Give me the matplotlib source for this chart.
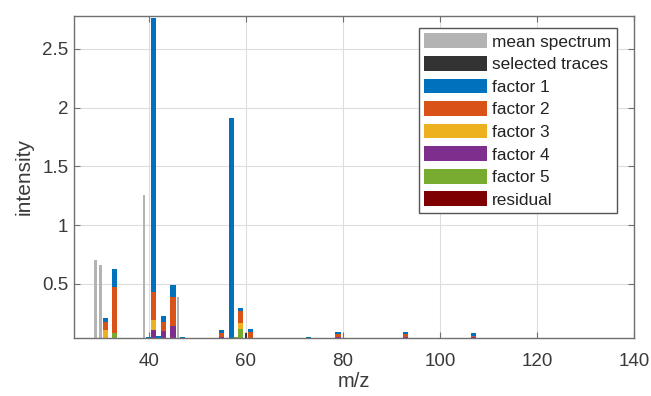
import numpy as np
import matplotlib
matplotlib.use("Agg")
import matplotlib.pyplot as plt

plt.rcParams['font.family'] = ['Liberation Sans', 'DejaVu Sans']

# mean spectrum (visible gray bars)
mean_mz = [29, 30, 39, 46]
mean_val = [0.70, 0.66, 1.26, 0.39]

# selected traces
sel_mz = [60]
sel_val = [0.08]

# factor contributions, stacked bottom->top: residual, f5, f4, f3, f2, f1
mz = [31, 33, 40, 41, 42, 43, 45, 47, 55, 57, 58, 59, 61, 73, 79, 93, 107]
f1 = [0.03, 0.16, 0.045, 2.33, 0.06, 0.05, 0.10, 0.045, 0.02, 1.87, 0.0, 0.025, 0.03, 0.045, 0.02, 0.02, 0.025]
f2 = [0.07, 0.39, 0.0, 0.24, 0.0, 0.08, 0.25, 0.0, 0.035, 0.0, 0.0, 0.10, 0.09, 0.0, 0.02, 0.025, 0.005]
f3 = [0.11, 0.0, 0.0, 0.085, 0.0, 0.0, 0.0, 0.0, 0.0, 0.0, 0.0, 0.05, 0.0, 0.0, 0.0, 0.0, 0.0]
f4 = [0.0, 0.0, 0.0, 0.11, 0.0, 0.10, 0.14, 0.0, 0.05, 0.0, 0.0, 0.0, 0.0, 0.0, 0.05, 0.05, 0.05]
f5 = [0.0, 0.08, 0.0, 0.0, 0.0, 0.0, 0.0, 0.0, 0.0, 0.04, 0.05, 0.12, 0.0, 0.0, 0.0, 0.0, 0.0]
resid = [0.0] * len(mz)

factor_cols = ['#0072BD', '#D95319', '#EDB120', '#7E2F8E', '#77AC30']
resid_col = '#7F0000'

fig = plt.figure(figsize=(6.51, 3.96), dpi=100)
ax = fig.add_axes([74 / 651, 1 - 338 / 396, 560 / 651, 322 / 396])

handles = []
h = ax.bar(mean_mz, mean_val, width=0.55, color='#B3B3B3', linewidth=0, label='mean spectrum')
handles.append(h)
h = ax.bar(sel_mz, sel_val, width=0.5, color='#333333', linewidth=0, label='selected traces')
handles.append(h)

# stacked factor bars
series = [resid, f5, f4, f3, f2, f1]
colors = [resid_col] + factor_cols[::-1]
names = ['residual', 'factor 5', 'factor 4', 'factor 3', 'factor 2', 'factor 1']
bottom = np.zeros(len(mz))
fac_h = {}
for vals, c, n in zip(series, colors, names):
    vals = np.array(vals)
    fac_h[n] = ax.bar(mz, vals, width=1.05, bottom=bottom, color=c, linewidth=0, label=n)
    bottom += vals

for n in ['factor 1', 'factor 2', 'factor 3', 'factor 4', 'factor 5', 'residual']:
    handles.append(fac_h[n])

ax.set_xlim(24.6, 140)
ax.set_ylim(0.04, 2.78)
ax.set_xticks([40, 60, 80, 100, 120, 140])
ax.set_yticks([0.5, 1, 1.5, 2, 2.5])
ax.set_yticklabels(['0.5', '1', '1.5', '2', '2.5'])
ax.grid(True, color='#DDDDDD', linewidth=0.8)
ax.set_axisbelow(True)
ax.tick_params(direction='in', top=True, right=True, length=4, width=0.8,
               colors='#707070', labelcolor='#3a3a3a', labelsize=13.5)
ax.tick_params(axis='x', pad=11)
ax.tick_params(axis='y', pad=4)
for s in ax.spines.values():
    s.set_color('#707070')
    s.set_linewidth(1.0)

ax.set_xlabel('m/z', fontsize=14.5, color='#3a3a3a', labelpad=1)
ax.set_ylabel('intensity', fontsize=15, color='#3a3a3a', labelpad=6)

leg = ax.legend(handles=handles, loc='upper right', bbox_to_anchor=(0.9696, 0.963),
                fontsize=12.4, handlelength=3.66, handleheight=0.95, labelspacing=0.36,
                handletextpad=0.3, borderpad=0.32, borderaxespad=0, fancybox=False,
                framealpha=1, edgecolor='#555555')
leg.get_frame().set_linewidth(1.0)
for t in leg.get_texts():
    t.set_color('#222222')

fig.savefig('out.png', dpi=100)
